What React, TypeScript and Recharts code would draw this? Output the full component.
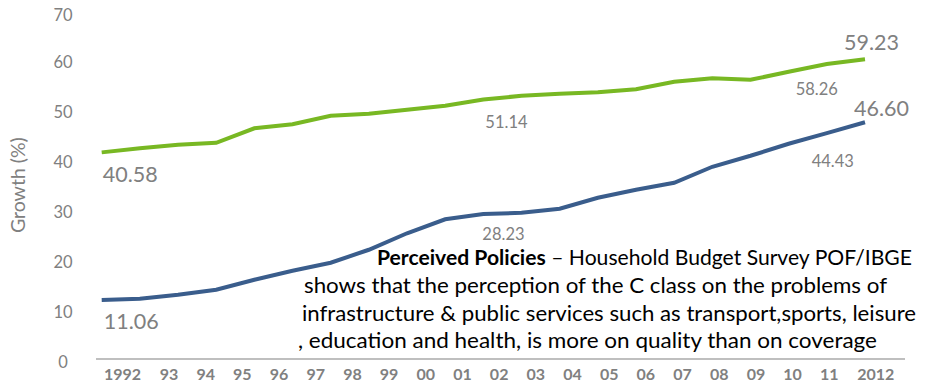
import { LabelList, Line, LineChart, XAxis, YAxis } from "recharts";

const years = ["1992", "93", "94", "95", "96", "97", "98", "99", "00", "01", "02", "03", "04", "05", "06", "07", "08", "09", "10", "11", "2012"];
const upperLine = [40.58, 41.4, 42.1, 42.5, 45.4, 46.2, 47.9, 48.3, 49.1, 49.9, 51.14, 51.9, 52.3, 52.6, 53.2, 54.7, 55.4, 55.1, 56.7, 58.26, 59.23];
const lowerLine = [11.06, 11.3, 12.1, 13.1, 15.1, 16.9, 18.5, 21.1, 24.4, 27.2, 28.23, 28.5, 29.3, 31.5, 33.1, 34.5, 37.7, 39.9, 42.3, 44.43, 46.6];
const yTicks = [0, 10, 20, 30, 40, 50, 60, 70];
const labeledPoints = [0, 10, 19, 20];

const data = years.map((year, i) => ({ year, upper: upperLine[i], lower: lowerLine[i] }));

const FONT = "Lato, 'Open Sans', sans-serif";
const GREEN = "#78b823";
const BLUE = "#3a5d8c";
const GREY = "#808080";

// where each value label sits relative to its point
const labelStyle: Record<string, Record<number, { dx: number; dy: number; anchor: "start" | "middle"; size: number }>> = {
  upper: {
    0: { dx: 1, dy: 22, anchor: "start", size: 21.5 },
    10: { dx: 2, dy: 22, anchor: "start", size: 16.5 },
    19: { dx: -10, dy: 25, anchor: "middle", size: 16.5 },
    20: { dx: 6.5, dy: -17, anchor: "middle", size: 21.5 },
  },
  lower: {
    0: { dx: 2, dy: 21, anchor: "start", size: 21.5 },
    10: { dx: -1, dy: 20, anchor: "start", size: 16.5 },
    19: { dx: 6, dy: 28, anchor: "middle", size: 16.5 },
    20: { dx: 16.5, dy: -14.5, anchor: "middle", size: 21.5 },
  },
};

const valueLabel = (key: string) => (props: any) => {
  const { x, y, value, index } = props;
  if (!labeledPoints.includes(index)) return null;
  const s = labelStyle[key][index];
  return (
    <text x={x + s.dx} y={y + s.dy} dy="0.36em" textAnchor={s.anchor} fill={GREY} fontSize={s.size} fontFamily={FONT}>
      {Number(value).toFixed(2)}
    </text>
  );
};

const YTick = ({ x, y, payload }: any) => (
  <text x={x - 33} y={y + 6.5} dy="0.36em" textAnchor="middle" fill={GREY} fontSize={16.5} fontFamily={FONT}>
    {payload.value}
  </text>
);

const XTick = ({ x, y, payload, index }: any) => {
  const last = index === years.length - 1;
  const anchor = index === 0 ? "end" : last ? "start" : "middle";
  const nx = index === 0 ? x + 8.75 : last ? x - 8.75 : x;
  return (
    <text x={nx} y={y + 15} dy="0.36em" textAnchor={anchor} fill={GREY} fontSize={16} fontWeight="bold" fontFamily={FONT}>
      {payload.value}
    </text>
  );
};

const AxisTitle = ({ viewBox }: any) => {
  const cx = viewBox.x + 18;
  const cy = viewBox.y + viewBox.height / 2 + 3;
  return (
    <text x={cx} y={cy} transform={`rotate(-90, ${cx}, ${cy})`} textAnchor="middle" dy="0.36em" fill={GREY} fontSize={19.5} fontFamily={FONT}>
      Growth (%)
    </text>
  );
};

export default function App() {
  return (
    <div style={{ position: "absolute", left: 0, top: 0, width: 930, height: 386, background: "#fff", fontFamily: FONT }}>
      <LineChart width={930} height={386} data={data} margin={{ top: 5.3, right: 25, bottom: 0, left: 0 }}>
        <XAxis xAxisId="data" dataKey="year" hide height={0} padding={{ left: 5.7, right: 40 }} />
        <XAxis
          xAxisId="labels"
          dataKey="year"
          height={27}
          interval={0}
          padding={{ left: 36.3, right: 39 }}
          axisLine={{ stroke: "#bfbfbf", strokeWidth: 2 }}
          tickLine={false}
          tickSize={0}
          tickMargin={0}
          tick={<XTick />}
        />
        <YAxis
          domain={[-0.75, 70]}
          ticks={yTicks}
          width={96}
          axisLine={false}
          tickLine={false}
          tickSize={0}
          tickMargin={0}
          tick={<YTick />}
          label={<AxisTitle />}
        />
        <Line xAxisId="data" dataKey="upper" stroke={GREEN} strokeWidth={4} dot={false} isAnimationActive={false}>
          <LabelList dataKey="upper" content={valueLabel("upper")} />
        </Line>
        <Line xAxisId="data" dataKey="lower" stroke={BLUE} strokeWidth={4} dot={false} isAnimationActive={false}>
          <LabelList dataKey="lower" content={valueLabel("lower")} />
        </Line>
      </LineChart>
      <svg width={930} height={386} style={{ position: "absolute", left: 0, top: 0, pointerEvents: "none" }}>
        <g fontFamily={FONT} fontSize={20.5} fill="#000">
          <text x={377} y={265} textLength={535} lengthAdjust="spacingAndGlyphs">
            <tspan fontWeight="bold">Perceived Policies</tspan> – Household Budget Survey POF/IBGE
          </text>
          <text x={304} y={293} textLength={583} lengthAdjust="spacingAndGlyphs">
            shows that the perception of the C class on the problems of
          </text>
          <text x={302} y={321} textLength={614} lengthAdjust="spacingAndGlyphs">
            infrastructure &amp; public services such as transport,sports, leisure
          </text>
          <text x={298} y={348} textLength={579} lengthAdjust="spacingAndGlyphs">
            , education and health, is more on quality than on coverage
          </text>
        </g>
      </svg>
    </div>
  );
}
